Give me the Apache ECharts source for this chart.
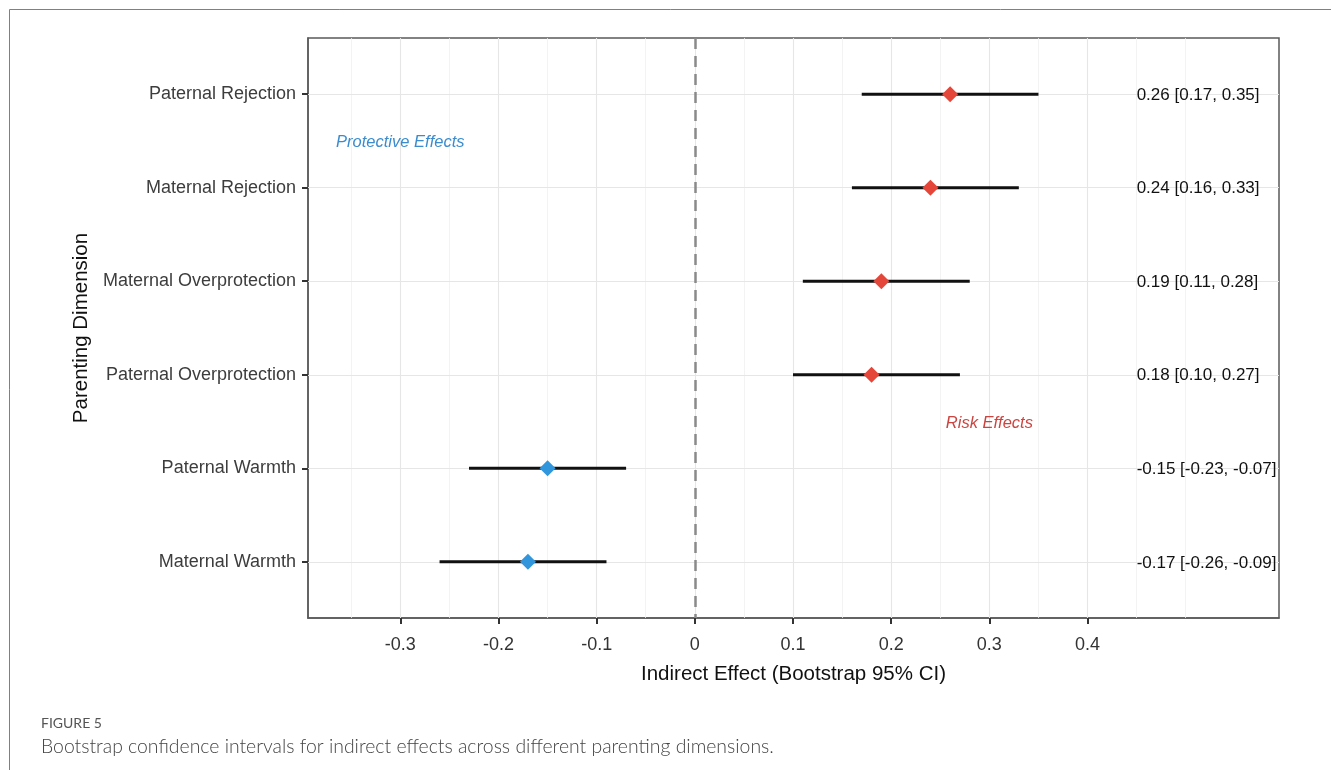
<!DOCTYPE html>
<html><head><meta charset="utf-8">
<script src="https://cdn.jsdelivr.net/npm/echarts@6/dist/echarts.min.js"></script>
<style>html,body{margin:0;padding:0;background:#fff;overflow:hidden;} #c{width:1331px;height:770px;}</style>
</head><body><div id="c"></div>
<script>
// ---- data ----
const categories = ['Paternal Rejection', 'Maternal Rejection', 'Maternal Overprotection', 'Paternal Overprotection', 'Paternal Warmth', 'Maternal Warmth'];
const estimates = [0.26, 0.24, 0.19, 0.18, -0.15, -0.17];
const lowerCI = [0.17, 0.16, 0.11, 0.10, -0.23, -0.26];
const upperCI = [0.35, 0.33, 0.28, 0.27, -0.07, -0.09];
const estimateLabels = ['0.26 [0.17, 0.35]', '0.24 [0.16, 0.33]', '0.19 [0.11, 0.28]', '0.18 [0.10, 0.27]', '-0.15 [-0.23, -0.07]', '-0.17 [-0.26, -0.09]'];
const xTicks = [-0.3, -0.2, -0.1, 0, 0.1, 0.2, 0.3, 0.4];
const xMinorGrid = [-0.35, -0.25, -0.15, -0.05, 0.05, 0.15, 0.25, 0.35, 0.45, 0.5];
const labelX = 0.45;
const annotationTexts = ['Protective Effects', 'Risk Effects'];
const annotationX = [-0.3, 0.3];
const annotationY = [1.5, 4.5];
const annotationColors = ['#3a8ccf', '#cc4440'];
const xTitle = 'Indirect Effect (Bootstrap 95% CI)';
const yTitle = 'Parenting Dimension';
const figureLabel = 'FIGURE 5';
const figureCaption = 'Bootstrap confidence intervals for indirect effects across different parenting dimensions.';

// ---- derived ----
const rows = categories.map((_, i) => i + 1);
const Y_MIN = 0.4, Y_MAX = 6.6;
const FONT = '"Liberation Sans", Arial, sans-serif';
const CAPFONT = 'Lato, "Open Sans", sans-serif';
const RED = '#e5463a', BLUE = '#3196dc';

const chart = echarts.init(document.getElementById('c'), null, {renderer: 'canvas'});
const option = {
  backgroundColor: '#fff',
  animation: false,
  grid: {left: 308, top: 38, right: 52, bottom: 152, show: true, borderColor: '#5a5a5a', borderWidth: 1.5, backgroundColor: 'transparent', outerBoundsMode: 'none', containLabel: false},
  xAxis: {
    type: 'value', min: -0.394, max: 0.595, position: 'bottom',
    axisLine: {show: true, onZero: false, lineStyle: {color: '#5a5a5a', width: 1.5}},
    splitLine: {show: false},
    axisTick: {show: true, inside: false, customValues: xTicks, length: 6, lineStyle: {color: '#333', width: 2}},
    axisLabel: {customValues: xTicks, margin: 18, fontSize: 18, color: '#333', fontFamily: FONT, formatter: v => String(Math.round(v * 10) / 10)},
    name: xTitle, nameLocation: 'middle', nameGap: 46,
    nameTextStyle: {fontSize: 20.5, color: '#111', fontFamily: FONT}
  },
  yAxis: {
    type: 'value', min: Y_MIN, max: Y_MAX, inverse: true, position: 'left',
    axisLine: {show: true, onZero: false, lineStyle: {color: '#5a5a5a', width: 1.5}},
    splitLine: {show: false},
    axisTick: {show: true, inside: false, customValues: rows, length: 6, lineStyle: {color: '#333', width: 2}},
    axisLabel: {customValues: rows, margin: 12, fontSize: 18, color: '#3d3d3d', fontFamily: FONT, formatter: v => categories[Math.round(v) - 1] || ''},
    name: yTitle, nameLocation: 'middle', nameGap: 214, nameRotate: 90,
    nameTextStyle: {fontSize: 20.5, color: '#111', fontFamily: FONT}
  },
  graphic: [
    {type: 'line', shape: {x1: 9.5, y1: 9.5, x2: 1331, y2: 9.5}, style: {stroke: '#808080', lineWidth: 1}},
    {type: 'line', shape: {x1: 9.5, y1: 9.5, x2: 9.5, y2: 770}, style: {stroke: '#808080', lineWidth: 1}},
    {type: 'text', left: 41, top: 716, style: {text: figureLabel, fontSize: 14, fill: '#555', fontFamily: CAPFONT}},
    {type: 'text', left: 41, top: 737, style: {text: figureCaption, fontSize: 19.4, fill: '#444', fontFamily: CAPFONT, fontWeight: 300}}
  ],
  series: [
    {
      type: 'scatter', data: [], silent: true, z: 1,
      markLine: {z: 1, silent: true, symbol: ['none', 'none'], label: {show: false}, animation: false,
        lineStyle: {color: '#f0f0f0', width: 0.8, type: 'solid'},
        data: xMinorGrid.map(v => ({xAxis: v}))}
    },
    {
      type: 'scatter', data: [], silent: true, z: 1,
      markLine: {z: 1, silent: true, symbol: ['none', 'none'], label: {show: false}, animation: false,
        lineStyle: {color: '#e6e6e6', width: 1.1, type: 'solid'},
        data: xTicks.map(v => ({xAxis: v})).concat(rows.map(r => ({yAxis: r})))}
    },
    {
      type: 'scatter', data: [], silent: true, z: 2,
      markLine: {z: 2, silent: true, symbol: ['none', 'none'], label: {show: false}, animation: false,
        lineStyle: {color: '#8a8a8a', width: 2.5, type: [11, 7]},
        data: [{xAxis: 0}]}
    },
    {
      type: 'custom', z: 4, silent: true,
      data: rows.map((r, i) => [lowerCI[i], upperCI[i], r]),
      encode: {x: [0, 1], y: 2},
      renderItem: (params, api) => {
        const p1 = api.coord([api.value(0), api.value(2)]);
        const p2 = api.coord([api.value(1), api.value(2)]);
        return {type: 'line', shape: {x1: p1[0], y1: p1[1], x2: p2[0], y2: p2[1]}, style: {stroke: '#111', lineWidth: 3}};
      }
    },
    {
      type: 'scatter', z: 5, silent: true, symbol: 'diamond', symbolSize: 16,
      data: rows.map((r, i) => [estimates[i], r]),
      itemStyle: {color: p => (p.value[0] > 0 ? RED : BLUE), opacity: 1}
    },
    {
      type: 'custom', z: 6, silent: true,
      data: rows.map((r, i) => [labelX, r, i]),
      encode: {x: 0, y: 1},
      renderItem: (params, api) => {
        const p = api.coord([api.value(0), api.value(1)]);
        return {type: 'text', x: p[0], y: p[1] + 1, style: {text: estimateLabels[params.dataIndex], fontSize: 17, fontFamily: FONT, fill: '#111', align: 'left', verticalAlign: 'middle'}};
      }
    },
    {
      type: 'custom', z: 6, silent: true,
      data: annotationTexts.map((t, i) => [annotationX[i], annotationY[i]]),
      encode: {x: 0, y: 1},
      renderItem: (params, api) => {
        const p = api.coord([api.value(0), api.value(1)]);
        return {type: 'text', x: p[0], y: p[1] + 2, style: {text: annotationTexts[params.dataIndex], fontSize: 16.5, fontStyle: 'italic', fontFamily: FONT, fill: annotationColors[params.dataIndex], align: 'center', verticalAlign: 'middle'}};
      }
    }
  ]
};
chart.setOption(option);
</script>
</body></html>
